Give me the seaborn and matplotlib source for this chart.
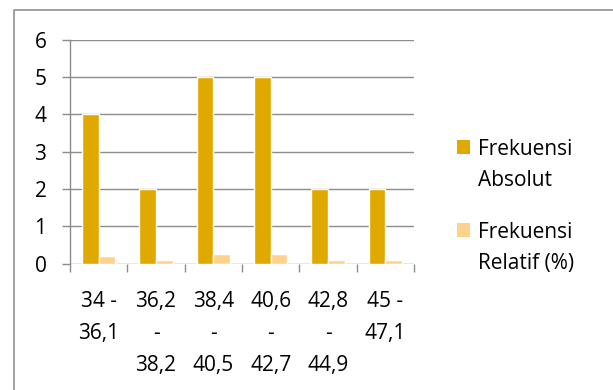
import matplotlib
matplotlib.use("Agg")
import matplotlib.pyplot as plt
from matplotlib.lines import Line2D
from matplotlib.patches import Patch, Rectangle
from matplotlib.legend_handler import HandlerPatch
import seaborn as sns
import pandas as pd

categories = ["34 -\n36,1", "36,2\n-\n38,2", "38,4\n-\n40,5", "40,6\n-\n42,7", "42,8\n-\n44,9", "45 -\n47,1"]
absolut = [4, 2, 5, 5, 2, 2]
relatif = [0.2, 0.1, 0.25, 0.25, 0.1, 0.1]
series_names = ["Frekuensi\nAbsolut", "Frekuensi\nRelatif (%)"]
colors = ["#E0A900", "#FFD28C"]
y_ticks = [0, 1, 2, 3, 4, 5, 6]

sns.set_style("white")
plt.rcParams['font.family'] = ['Open Sans', 'DejaVu Sans']
FS = 15

df = pd.DataFrame({
    "kelas": categories * 2,
    "nilai": absolut + relatif,
    "seri": [series_names[0]] * len(categories) + [series_names[1]] * len(categories),
})

fig = plt.figure(figsize=(6.13, 3.90), dpi=100)
ax = fig.add_axes([70/613, (390-263.5)/390, (414-70)/613, (263.5-39.5)/390])

sns.barplot(data=df, x="kelas", y="nilai", hue="seri", palette=colors, saturation=1,
            width=0.58, edgecolor="white", linewidth=1, ax=ax, legend=False)

grid_c = "#8C8C8C"
ax.set_ylim(0, 6)
ax.set_xlim(-0.5, len(categories) - 0.5)
ax.set_yticks(y_ticks)
ax.set_yticklabels([str(v) for v in y_ticks])
for v in y_ticks:
    ax.axhline(v, color=grid_c, lw=1, zorder=0)
ax.set_axisbelow(True)
for s in ["top", "right", "bottom"]:
    ax.spines[s].set_visible(False)
ax.spines["left"].set_color(grid_c)
ax.spines["left"].set_linewidth(1)

ax.tick_params(axis="y", left=True, length=6, width=1, color=grid_c, pad=11, labelsize=FS, labelcolor="black")
ax.set_xticks(range(len(categories)))
ax.set_xticklabels(categories, linespacing=1.70)
ax.set_xticks([i - 0.5 for i in range(len(categories) + 1)], minor=True)
ax.tick_params(axis="x", which="major", bottom=True, length=0, pad=19.5, labelsize=FS, labelcolor="black")
ax.tick_params(axis="x", which="minor", bottom=True, length=6, width=1, color=grid_c)
ax.set_xlabel("")
ax.set_ylabel("")


def top_square(legend, orig_handle, xdescent, ydescent, width, height, fontsize):
    return Rectangle((-xdescent, -ydescent + 13.5), width, height)


handles = [Patch(facecolor=c, edgecolor="none") for c in colors]
leg = fig.legend(handles, series_names, loc="upper left",
                 bbox_to_anchor=(457/613, (390-139)/390), frameon=False,
                 fontsize=FS, handlelength=0.62, handleheight=0.62,
                 handletextpad=0.4, labelspacing=1.5, borderpad=0, borderaxespad=0,
                 handler_map={Patch: HandlerPatch(patch_func=top_square)})
for t in leg.get_texts():
    t.set_linespacing(1.61)
    t.set_color("black")

fig.add_artist(Line2D([14/613, 14/613, 1], [0, (390-10)/390, (390-10)/390],
                      transform=fig.transFigure, color="#A0A0A0", lw=1.4))

fig.savefig("out.png", dpi=100)
